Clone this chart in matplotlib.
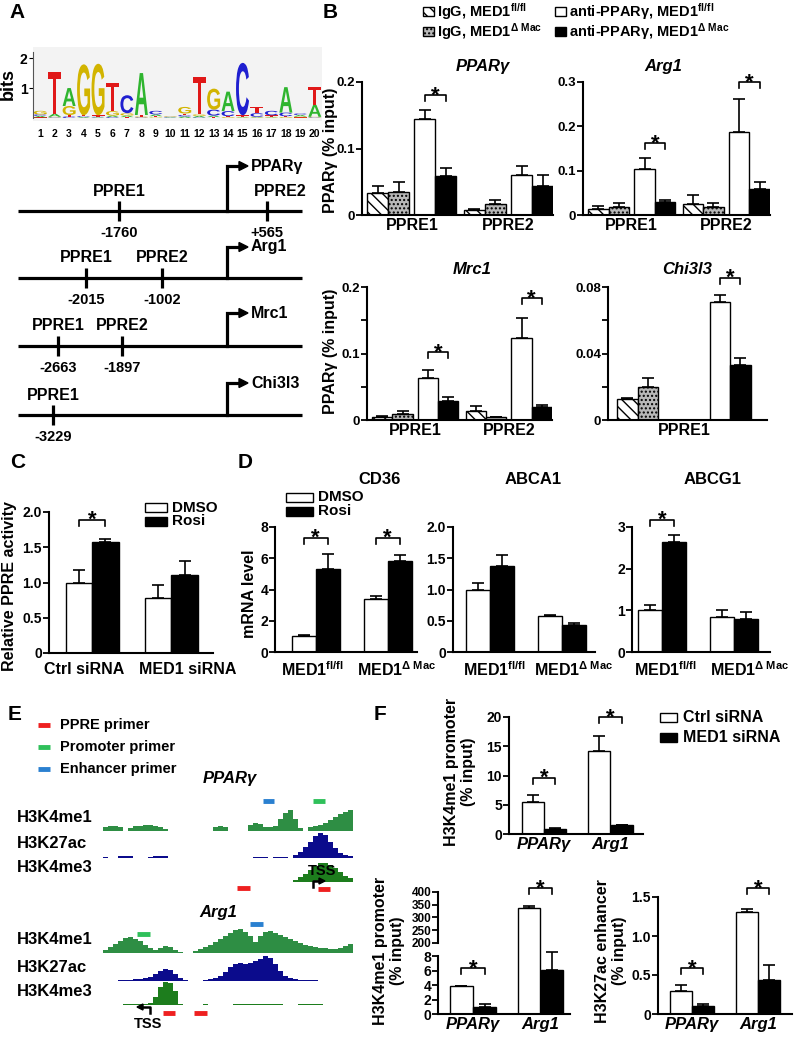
import numpy as np
import matplotlib
matplotlib.use('Agg')
import matplotlib.pyplot as plt
from matplotlib.patches import Rectangle, PathPatch, Polygon
from matplotlib.textpath import TextPath
from matplotlib.font_manager import FontProperties
from matplotlib.transforms import Affine2D

# ============================ DATA ============================
# Panel A - PPRE motif logo (bits) at positions 1..20
logo_positions = list(range(1, 21))
logo_A = [0.05, 0.10, 0.60, 0.03, 0.02, 0.05, 0.05, 1.40, 0.06, 0.02, 0.05, 0.05, 0.05, 0.65, 0.02, 0.02, 0.02, 0.85, 0.05, 0.40]
logo_C = [0.05, 0.02, 0.05, 0.03, 0.02, 0.03, 0.60, 0.02, 0.12, 0.02, 0.05, 0.02, 0.20, 0.17, 1.75, 0.12, 0.15, 0.12, 0.05, 0.02]
logo_G = [0.12, 0.02, 0.30, 1.70, 1.72, 0.15, 0.08, 0.03, 0.02, 0.02, 0.22, 0.05, 0.70, 0.03, 0.02, 0.02, 0.02, 0.03, 0.03, 0.02]
logo_T = [0.02, 1.40, 0.05, 0.03, 0.05, 0.95, 0.03, 0.05, 0.04, 0.02, 0.05, 1.25, 0.03, 0.03, 0.05, 0.20, 0.05, 0.03, 0.02, 0.60]

# Panel A - promoter schematics
genes_A = ['PPARγ', 'Arg1', 'Mrc1', 'Chi3l3']
sites_A = [['PPRE1', 'PPRE2'], ['PPRE1', 'PPRE2'], ['PPRE1', 'PPRE2'], ['PPRE1']]
sites_bp_A = [['-1760', '+565'], ['-2015', '-1002'], ['-2663', '-1897'], ['-3229']]

# Panel B - PPARγ ChIP (% input); series order: IgG fl/fl, IgG ΔMac, anti fl/fl, anti ΔMac
b_series = ['IgG, MED1 fl/fl', 'IgG, MED1 ΔMac', 'anti-PPARγ, MED1 fl/fl', 'anti-PPARγ, MED1 ΔMac']
pparg_ppre1 = [0.033, 0.035, 0.145, 0.059]
pparg_ppre1_err = [0.010, 0.015, 0.013, 0.011]
pparg_ppre2 = [0.007, 0.016, 0.060, 0.044]
pparg_ppre2_err = [0.002, 0.006, 0.013, 0.016]
arg1_ppre1 = [0.013, 0.018, 0.103, 0.030]
arg1_ppre1_err = [0.008, 0.009, 0.025, 0.004]
arg1_ppre2 = [0.025, 0.019, 0.188, 0.059]
arg1_ppre2_err = [0.019, 0.007, 0.074, 0.016]
mrc1_ppre1 = [0.005, 0.009, 0.063, 0.028]
mrc1_ppre1_err = [0.001, 0.005, 0.012, 0.006]
mrc1_ppre2 = [0.014, 0.004, 0.123, 0.019]
mrc1_ppre2_err = [0.007, 0.001, 0.031, 0.004]
chi3l3_ppre1 = [0.0125, 0.020, 0.071, 0.033]
chi3l3_ppre1_err = [0.0006, 0.005, 0.004, 0.004]

# Panel C - relative PPRE activity
c_groups = ['Ctrl siRNA', 'MED1 siRNA']
c_dmso = [1.00, 0.78]
c_dmso_err = [0.18, 0.18]
c_rosi = [1.57, 1.11]
c_rosi_err = [0.05, 0.19]

# Panel D - mRNA level
d_groups = [r'MED1$^{\mathrm{fl/fl}}$', r'MED1$^{\mathrm{Δ\ Mac}}$']
cd36_dmso = [1.00, 3.40]
cd36_dmso_err = [0.08, 0.20]
cd36_rosi = [5.30, 5.80]
cd36_rosi_err = [1.00, 0.40]
abca1_dmso = [1.00, 0.57]
abca1_dmso_err = [0.10, 0.02]
abca1_rosi = [1.38, 0.43]
abca1_rosi_err = [0.17, 0.04]
abcg1_dmso = [1.00, 0.83]
abcg1_dmso_err = [0.13, 0.17]
abcg1_rosi = [2.65, 0.80]
abcg1_rosi_err = [0.15, 0.15]

# Panel E - browser tracks (signal per bin, 50 bins) and primer positions (bin units)
pparg_h3k4me1 = [4, 5, 5, 4, 0, 3, 5, 5, 6, 6, 5, 4, 2, 0, 0, 0, 0, 0, 0, 0, 0, 0, 4, 5, 4, 0, 0, 0, 0, 6,
                 8, 7, 4, 4, 5, 12, 18, 21, 12, 3, 0, 4, 5, 6, 8, 11, 14, 17, 19, 21]
pparg_h3k27ac = [1, 0, 0, 2, 2, 2, 0, 0, 0, 1.5, 2, 2.5, 2, 0, 0, 0, 0, 0, 0, 0, 0, 0, 0, 0, 0, 0, 0, 0, 0, 0,
                 1.5, 1.5, 1, 0, 1, 1, 1, 0, 3, 6, 11, 16, 22, 25, 23, 16, 10, 5, 3, 2]
pparg_h3k4me3 = [0] * 38 + [2, 5, 8, 12, 16, 19, 19, 17, 14, 10, 6, 4]
arg1_h3k4me1 = [3, 6, 9, 12, 15, 16, 14, 12, 8, 5, 3, 5, 7, 6, 3, 1, 0.5, 0, 2, 4,
                6, 8, 11, 14, 17, 20, 23, 24, 21, 17, 11, 17, 21, 22, 20, 18, 16, 14, 12, 10,
                8, 7, 6, 5, 5, 4, 4, 5, 7, 9]
arg1_h3k27ac = [0, 0, 0, 1, 1, 1.5, 2, 2, 3, 4, 7, 10, 12, 11, 7, 3, 1, 0, 0, 0,
                1, 2, 3, 5, 9, 14, 17, 18, 17, 18, 20, 22, 25, 23, 17, 10, 5, 3, 2, 1.5,
                1.5, 1, 1, 0.5, 0.5, 0.5, 0, 0, 0, 0]
arg1_h3k4me3 = [0, 0, 0, 0, 1, 1, 1, 1, 1, 2, 8, 18, 23, 22, 14, 1, 0, 0, 0, 0,
                1, 0, 0, 0, 0, 0, 1, 1, 1, 1, 1, 1.5, 1, 1, 1, 1, 0.5, 0, 0, 1,
                1, 1, 1, 1, 0, 0, 0, 0, 0, 0]
primer_kinds = ['PPRE primer', 'Promoter primer', 'Enhancer primer']
pparg_primers = [('Enhancer primer', 32.0, 34.2), ('Promoter primer', 42.0, 44.4),
                 ('PPRE primer', 26.8, 29.4), ('PPRE primer', 43.0, 45.4)]
arg1_primers = [('Promoter primer', 6.8, 9.4), ('Enhancer primer', 29.4, 32.0),
                ('PPRE primer', 12.0, 14.4), ('PPRE primer', 18.2, 20.8)]

# Panel F - histone ChIP (% input)
f_groups = ['PPARγ', 'Arg1']
f_me1_ctrl = [5.5, 14.2]
f_me1_ctrl_err = [1.1, 2.6]
f_me1_med1 = [0.9, 1.5]
f_me1_med1_err = [0.1, 0.1]
f_me1b_ctrl = [3.8, 338.0]
f_me1b_ctrl_err = [0.08, 6.0]
f_me1b_med1 = [1.0, 6.1]
f_me1b_med1_err = [0.35, 2.4]
f_ac_ctrl = [0.29, 1.31]
f_ac_ctrl_err = [0.08, 0.04]
f_ac_med1 = [0.10, 0.43]
f_ac_med1_err = [0.03, 0.20]

# ============================ STYLE / LAYOUT ============================
W, H = 800, 1044
plt.rcParams['font.family'] = ['Liberation Sans', 'DejaVu Sans']
plt.rcParams['font.weight'] = 'bold'
plt.rcParams['mathtext.fontset'] = 'custom'
plt.rcParams['mathtext.rm'] = 'Liberation Sans:bold'
plt.rcParams['mathtext.bf'] = 'Liberation Sans:bold'
plt.rcParams['mathtext.it'] = 'Liberation Sans:italic:bold'
plt.rcParams['hatch.linewidth'] = 1.0

fig = plt.figure(figsize=(W / 100, H / 100), dpi=100)


def px_axes(x0, y0, x1, y1, **kw):
    return fig.add_axes([x0 / W, 1 - y1 / H, (x1 - x0) / W, (y1 - y0) / H], **kw)


STY = {
    'igg_fl': dict(facecolor='white', edgecolor='black', hatch='\\' * 3),
    'igg_dm': dict(facecolor='#b8b8b8', edgecolor='black', hatch='.' * 4),
    'open': dict(facecolor='white', edgecolor='black'),
    'black': dict(facecolor='black', edgecolor='black'),
}


def barplot(rect, pos, vals, errs, styles, xmax, ylim, yticks, ylabels,
            minor=None, xt=None, xtl=None, italic=False, spine_bounds=None, bottom=True, tsize=10):
    ax = px_axes(*rect)
    for p, v, e, s in zip(pos, vals, errs, styles):
        ax.bar(p, v, width=1.0, linewidth=1.0, zorder=2, **STY[s])
        if e is not None and e > 0:
            ax.errorbar(p, v, yerr=[[0], [e]], fmt='none', ecolor='black', elinewidth=1.2,
                        capsize=4, capthick=1.2, zorder=3)
    ax.set_xlim(0, xmax)
    ax.set_ylim(*ylim)
    ax.spines[['top', 'right']].set_visible(False)
    ax.spines['left'].set_linewidth(1.5)
    ax.spines['bottom'].set_linewidth(1.5)
    if not bottom:
        ax.spines['bottom'].set_visible(False)
    if spine_bounds:
        ax.spines['left'].set_bounds(*spine_bounds)
    ax.set_yticks(yticks)
    ax.set_yticklabels(ylabels, fontweight='bold')
    if minor:
        ax.set_yticks(minor, minor=True)
    ax.tick_params(axis='y', which='both', direction='out', length=4, width=1.3, labelsize=tsize, pad=1)
    ax.tick_params(axis='x', length=0, labelsize=11.5, pad=2)
    if xt is not None:
        ax.set_xticks(xt)
        ax.set_xticklabels(xtl, fontstyle='italic' if italic else 'normal', fontweight='bold')
    else:
        ax.set_xticks([])
    ax.patch.set_alpha(0)
    return ax


def sig(ax, rect, ylim, x1, x2, y, leg=6):
    hpx = rect[3] - rect[1]
    d = leg / hpx * (ylim[1] - ylim[0])
    ax.plot([x1, x1, x2, x2], [y - d, y, y, y - d], color='black', lw=1.2, clip_on=False, zorder=4)
    ax.annotate('*', xy=((x1 + x2) / 2, y), xytext=(0, -4.5), textcoords='offset points',
                ha='center', va='baseline', fontsize=16, fontweight='bold', annotation_clip=False)


ov = fig.add_axes([0, 0, 1, 1], zorder=10)
ov.set_xlim(0, W)
ov.set_ylim(H, 0)
ov.axis('off')
ov.patch.set_alpha(0)


def T(x, y, s, size=11.5, ha='center', va='center', **kw):
    ov.text(x, y, s, fontsize=size, fontweight='bold', ha=ha, va=va, **kw)


# Panel letters
for lx, ly, lt in [(17, 13, 'A'), (330, 13, 'B'), (18, 463, 'C'), (245, 463, 'D'), (15, 715, 'E'), (380, 715, 'F')]:
    T(lx, ly, lt, size=15)

# ============================ PANEL A ============================
axl = px_axes(33, 47, 322, 121)
axl.set_facecolor('#f3f3f3')
axl.set_xlim(0.5, 20.5)
axl.set_ylim(-0.1, 2.37)
fp = FontProperties(family='Liberation Sans', weight='bold')
logo_colors = {'A': '#2fb52f', 'C': '#1f1fd0', 'G': '#d2b400', 'T': '#e01818'}


def draw_letter(ax, ch, x, y0, h, color, w=0.9):
    tp = TextPath((0, 0), ch, size=1, prop=fp)
    bb = tp.get_extents()
    tr = Affine2D().translate(-bb.x0, -bb.y0).scale(w / bb.width, h / bb.height).translate(x - w / 2, y0)
    ax.add_patch(PathPatch(tr.transform_path(tp), fc=color, ec='none', lw=0))


for i, p in enumerate(logo_positions):
    stack = sorted([('A', logo_A[i]), ('C', logo_C[i]), ('G', logo_G[i]), ('T', logo_T[i])], key=lambda t: t[1])
    base = 0.0
    for ch, hgt in stack:
        draw_letter(axl, ch, p, base, hgt, logo_colors[ch])
        base += hgt
for sp in ['top', 'right', 'bottom']:
    axl.spines[sp].set_visible(False)
axl.spines['left'].set_color('#555555')
axl.spines['left'].set_linewidth(0.8)
axl.spines['left'].set_bounds(0, 2.2)
axl.set_yticks([1, 2])
axl.set_yticklabels(['1', '2'], fontweight='bold')
axl.tick_params(axis='y', length=3, width=0.8, labelsize=10, pad=1, colors='black')
axl.set_xticks(logo_positions)
axl.set_xticklabels([str(p) for p in logo_positions], fontweight='bold')
axl.tick_params(axis='x', length=0, labelsize=7.5, pad=6)
axl.set_ylabel('bits', fontsize=13, fontweight='bold', labelpad=2)

line_y = [211, 278, 346, 415]
site_x = [[119, 267], [86, 162], [58, 122], [53]]
label_dx = [[0, 13], [0, 0], [0, 0], [0, 0]]
arrow_h = [45, 31, 33, 32]
tss_x = 227
for gi, gene in enumerate(genes_A):
    y = line_y[gi]
    ov.plot([18, 302], [y, y], color='black', lw=2.3, solid_capstyle='butt')
    for lab, num, sx, dx in zip(sites_A[gi], sites_bp_A[gi], site_x[gi], label_dx[gi]):
        ov.plot([sx, sx], [y - 10, y + 10], color='black', lw=2.3, solid_capstyle='butt')
        T(sx + dx, y - 20, lab, size=11.5)
        T(sx, y + 22, num, size=10.5)
    ya = y - arrow_h[gi]
    ov.plot([tss_x, tss_x, 240], [y, ya, ya], color='black', lw=2.3, solid_joinstyle='miter')
    ov.add_patch(Polygon([[239, ya - 4.5], [239, ya + 4.5], [248, ya]], closed=True, color='black'))
    T(251, ya, gene, size=11.5, ha='left')

# ============================ PANEL B ============================
# legend
leg_items = [(423, 11, 'igg_fl', r'IgG, MED1$^{\mathrm{fl/fl}}$'),
             (423, 31, 'igg_dm', r'IgG, MED1$^{\mathrm{Δ\ Mac}}$'),
             (555, 11, 'open', r'anti-PPARγ, MED1$^{\mathrm{fl/fl}}$'),
             (555, 31, 'black', r'anti-PPARγ, MED1$^{\mathrm{Δ\ Mac}}$')]
for lx, ly, st, lab in leg_items:
    ov.add_patch(Rectangle((lx, ly - 4.5), 11, 9, linewidth=1.0, **STY[st]))
    T(lx + 14, ly + 1, lab, size=10.5, ha='left')

b_styles = ['igg_fl', 'igg_dm', 'open', 'black']
offs = [0, 1, 2.25, 3.25]
g1, g2 = 0.75, 5.35
pos2 = [g1 + o for o in offs] + [g2 + o for o in offs]
xt2 = [g1 + 1.625, g2 + 1.625]

r = (362, 82, 553, 215)
yl = (0, 0.2)
ax = barplot(r, pos2, pparg_ppre1 + pparg_ppre2, pparg_ppre1_err + pparg_ppre2_err, b_styles * 2, 9.1, yl,
             [0, 0.1, 0.2], ['0', '0.1', '0.2'], xt=xt2, xtl=['PPRE1', 'PPRE2'], tsize=9.5)
sig(ax, r, yl, g1 + 2.25, g1 + 3.25, 0.180)
T(483, 66, 'PPARγ', size=12, fontstyle='italic')

r = (583, 82, 770, 215)
yl = (0, 0.3)
ax = barplot(r, pos2, arg1_ppre1 + arg1_ppre2, arg1_ppre1_err + arg1_ppre2_err, b_styles * 2, 9.1, yl,
             [0, 0.1, 0.2, 0.3], ['0', '0.1', '0.2', '0.3'], xt=xt2, xtl=['PPRE1', 'PPRE2'], tsize=9.5)
sig(ax, r, yl, g1 + 2.25, g1 + 3.25, 0.162)
sig(ax, r, yl, g2 + 2.25, g2 + 3.25, 0.300)
T(663, 66, 'Arg1', size=12, fontstyle='italic')

r = (367, 287, 552, 420)
yl = (0, 0.2)
ax = barplot(r, pos2, mrc1_ppre1 + mrc1_ppre2, mrc1_ppre1_err + mrc1_ppre2_err, b_styles * 2, 9.1, yl,
             [0, 0.1, 0.2], ['0', '0.1', '0.2'], minor=[0.05, 0.15], xt=xt2, xtl=['PPRE1', 'PPRE2'], tsize=9.5)
sig(ax, r, yl, g1 + 2.25, g1 + 3.25, 0.102)
sig(ax, r, yl, g2 + 2.25, g2 + 3.25, 0.183)
T(472, 270, 'Mrc1', size=12, fontstyle='italic')

r = (608, 287, 767, 420)
yl = (0, 0.08)
pos_chi = [0.95, 1.95, 5.45, 6.45]
ax = barplot(r, pos_chi, chi3l3_ppre1, chi3l3_ppre1_err, b_styles, 7.75, yl,
             [0, 0.04, 0.08], ['0', '0.04', '0.08'], minor=[0.02, 0.06], xt=[3.7], xtl=['PPRE1'], tsize=9.5)
sig(ax, r, yl, 5.45, 6.45, 0.0855)
T(687, 270, 'Chi3l3', size=12, fontstyle='italic')

T(331, 150, 'PPARγ (% input)', size=11.5, rotation=90)
T(330, 351, 'PPARγ (% input)', size=11.5, rotation=90)

# ============================ PANEL C ============================
r = (49, 512, 213, 653)
yl = (0, 2.0)
posc = [1.13, 2.13, 4.13, 5.13]
ax = barplot(r, posc, [c_dmso[0], c_rosi[0], c_dmso[1], c_rosi[1]],
             [c_dmso_err[0], c_rosi_err[0], c_dmso_err[1], c_rosi_err[1]],
             ['open', 'black', 'open', 'black'], 6.2, yl,
             [0, 0.5, 1.0, 1.5, 2.0], ['0', '0.5', '1.0', '1.5', '2.0'])
sig(ax, r, yl, 1.13, 2.13, 1.89)
T(84, 670, c_groups[0], size=11.5)
T(188, 670, c_groups[1], size=11.5)
T(10, 586, 'Relative PPRE activity', size=11.5, rotation=90)
for ly, st, lab in [(507.5, 'open', 'DMSO'), (521, 'black', 'Rosi')]:
    ov.add_patch(Rectangle((145, ly - 4.5), 22, 9, linewidth=1.0, **STY[st]))
    T(172, ly, lab, size=11, ha='left')

# ============================ PANEL D ============================
dstyles = ['open', 'black', 'open', 'black']
r = (275, 527, 417, 652)
yl = (0, 8)
posd = [1.2, 2.2, 4.2, 5.2]
ax = barplot(r, posd, [cd36_dmso[0], cd36_rosi[0], cd36_dmso[1], cd36_rosi[1]],
             [cd36_dmso_err[0], cd36_rosi_err[0], cd36_dmso_err[1], cd36_rosi_err[1]],
             dstyles, 5.92, yl, [0, 2, 4, 6, 8], ['0', '2', '4', '6', '8'])
sig(ax, r, yl, 1.2, 2.2, 7.3)
sig(ax, r, yl, 4.2, 5.2, 7.3)
T(380, 479, 'CD36', size=12)

r = (453, 527, 595, 652)
yl = (0, 2.0)
posd2 = [1.06, 2.06, 4.04, 5.04]
ax = barplot(r, posd2, [abca1_dmso[0], abca1_rosi[0], abca1_dmso[1], abca1_rosi[1]],
             [abca1_dmso_err[0], abca1_rosi_err[0], abca1_dmso_err[1], abca1_rosi_err[1]],
             dstyles, 5.92, yl, [0, 0.5, 1.0, 1.5, 2.0], ['0', '0.5', '1.0', '1.5', '2.0'])
T(533, 479, 'ABCA1', size=12)

r = (632, 527, 770, 652)
yl = (0, 3)
posd3 = [0.75, 1.77, 3.73, 4.75]
ax = barplot(r, posd3, [abcg1_dmso[0], abcg1_rosi[0], abcg1_dmso[1], abcg1_rosi[1]],
             [abcg1_dmso_err[0], abcg1_rosi_err[0], abcg1_dmso_err[1], abcg1_rosi_err[1]],
             dstyles, 5.75, yl, [0, 1, 2, 3], ['0', '1', '2', '3'])
sig(ax, r, yl, 0.75, 1.77, 3.17)
T(713, 479, 'ABCG1', size=12)

for cx in [(312, 397), (494, 574), (665, 750)]:
    T(cx[0], 670, d_groups[0], size=11.5)
    T(cx[1], 670, d_groups[1], size=11.5)
T(249, 594, 'mRNA level', size=11.5, rotation=90)
for ly, st, lab in [(497, 'open', 'DMSO'), (511, 'black', 'Rosi')]:
    ov.add_patch(Rectangle((286, ly - 4.5), 27, 9, linewidth=1.0, **STY[st]))
    T(318, ly, lab, size=11, ha='left')

# ============================ PANEL E ============================
primer_colors = {'PPRE primer': '#ee2020', 'Promoter primer': '#2fc05a', 'Enhancer primer': '#2a80d0'}
for k, (kind, ly) in enumerate(zip(primer_kinds, [725, 747, 769])):
    ov.plot([38, 50], [ly, ly], color=primer_colors[kind], lw=3.5, solid_capstyle='butt')
    T(60, ly, kind, size=10.5, ha='left')

track_cols = {'H3K4me1': '#2e8e44', 'H3K27ac': '#0b0b8c', 'H3K4me3': '#1d7d1d'}
track_sets = [
    ('PPARγ', (230, 778), [('H3K4me1', pparg_h3k4me1, 831), ('H3K27ac', pparg_h3k27ac, 858),
                            ('H3K4me3', pparg_h3k4me3, 882)], pparg_primers, [30, 30, -6, -7]),
    ('Arg1', (218, 913), [('H3K4me1', arg1_h3k4me1, 953), ('H3K27ac', arg1_h3k27ac, 981),
                           ('H3K4me3', arg1_h3k4me3, 1005)], arg1_primers, [19, 29, -8, -8]),
]
for gname, (tx, ty), tracks, primers, prim_y in track_sets:
    T(tx, ty, gname, size=12, fontstyle='italic')
    taxes = []
    for tname, vals, base in tracks:
        tax = px_axes(103, base - 26, 353, base)
        tax.bar(np.arange(len(vals)), vals, width=1.0, align='edge', color=track_cols[tname], linewidth=0)
        tax.set_xlim(0, 50)
        tax.set_ylim(0, 26)
        tax.axis('off')
        taxes.append(tax)
        T(17, base - 14, tname, size=12, ha='left')
    for (kind, a, b), py in zip(primers, prim_y):
        tgt = taxes[0] if py > 0 else taxes[2]
        tgt.plot([a, b], [py, py], color=primer_colors[kind], lw=3.5, solid_capstyle='butt', clip_on=False)

# TSS marks
T(322, 871, 'TSS', size=10.5)
ov.plot([313, 313, 320], [887, 881, 881], color='black', lw=1.8)
ov.add_patch(Polygon([[319, 878], [319, 884], [325, 881]], closed=True, color='black'))
T(148, 1024, 'TSS', size=10.5)
ov.plot([150, 150, 142], [1013, 1007, 1007], color='black', lw=1.8)
ov.add_patch(Polygon([[143, 1004], [143, 1010], [137, 1007]], closed=True, color='black'))

# ============================ PANEL F ============================
fstyles = ['open', 'black', 'open', 'black']
r = (509, 717, 643, 834)
yl = (0, 20)
posf = [1.07, 2.1, 4.09, 5.12]
ax = barplot(r, posf, [f_me1_ctrl[0], f_me1_med1[0], f_me1_ctrl[1], f_me1_med1[1]],
             [f_me1_ctrl_err[0], f_me1_med1_err[0], f_me1_ctrl_err[1], f_me1_med1_err[1]],
             fstyles, 6.09, yl, [0, 5, 10, 15, 20], ['0', '5', '10', '15', '20'],
             xt=[1.585, 4.605], xtl=f_groups, italic=True)
ax.tick_params(axis='x', labelsize=12)
sig(ax, r, yl, 1.07, 2.1, 9.6)
sig(ax, r, yl, 4.09, 5.12, 20.0)
ov.text(460, 772, 'H3K4me1 promoter\n(% input)', fontsize=11.5, fontweight='bold', rotation=90,
        ha='center', va='center', multialignment='center', linespacing=1.1)
for ly, st, lab in [(717, 'open', 'Ctrl siRNA'), (737, 'black', 'MED1 siRNA')]:
    ov.add_patch(Rectangle((660, ly - 4.5), 17, 9, linewidth=1.0, **STY[st]))
    T(683, ly, lab, size=11.5, ha='left')

# broken-axis chart
posfb = [1.04, 2.07, 4.04, 5.07]
vals_b = [f_me1b_ctrl[0], f_me1b_med1[0], f_me1b_ctrl[1], f_me1b_med1[1]]
errs_b = [f_me1b_ctrl_err[0], f_me1b_med1_err[0], f_me1b_ctrl_err[1], f_me1b_med1_err[1]]
r_up = (438, 892, 570, 950)
yl_up = (172.5, 400)
axu = barplot(r_up, posfb, vals_b, [None, None, errs_b[2], None], fstyles, 5.87, yl_up,
              [200, 250, 300, 350, 400], ['200', '250', '300', '350', '400'],
              spine_bounds=(200, 400), bottom=False, tsize=8.5)
axu.tick_params(axis='y', pad=0.5)
r_lo = (438, 950, 570, 1014)
yl_lo = (0, 8.83)
axb = barplot(r_lo, posfb, vals_b, [errs_b[0], errs_b[1], None, errs_b[3]], fstyles, 5.87, yl_lo,
              [0, 2, 4, 6, 8], ['0', '2', '4', '6', '8'], spine_bounds=(0, 8),
              xt=[1.555, 4.555], xtl=f_groups, italic=True)
axb.tick_params(axis='x', labelsize=12)
sig(axb, r_lo, yl_lo, 1.04, 2.07, 6.3)
sig(axu, r_up, yl_up, 4.04, 5.07, 415)
ov.text(389, 951, 'H3K4me1 promoter\n(% input)', fontsize=11.5, fontweight='bold', rotation=90,
        ha='center', va='center', multialignment='center', linespacing=1.1)

r = (658, 897, 792, 1014)
yl = (0, 1.5)
posfc = [1.05, 2.05, 4.05, 5.05]
ax = barplot(r, posfc, [f_ac_ctrl[0], f_ac_med1[0], f_ac_ctrl[1], f_ac_med1[1]],
             [f_ac_ctrl_err[0], f_ac_med1_err[0], f_ac_ctrl_err[1], f_ac_med1_err[1]],
             fstyles, 6.09, yl, [0, 0.5, 1.0, 1.5], ['0', '0.5', '1.0', '1.5'],
             xt=[1.55, 4.55], xtl=f_groups, italic=True)
ax.tick_params(axis='x', labelsize=12)
sig(ax, r, yl, 1.05, 2.05, 0.59)
sig(ax, r, yl, 4.05, 5.05, 1.61)
ov.text(611, 951, 'H3K27ac enhancer\n(% input)', fontsize=11.5, fontweight='bold', rotation=90,
        ha='center', va='center', multialignment='center', linespacing=1.1)

fig.savefig('out.png', dpi=100)
